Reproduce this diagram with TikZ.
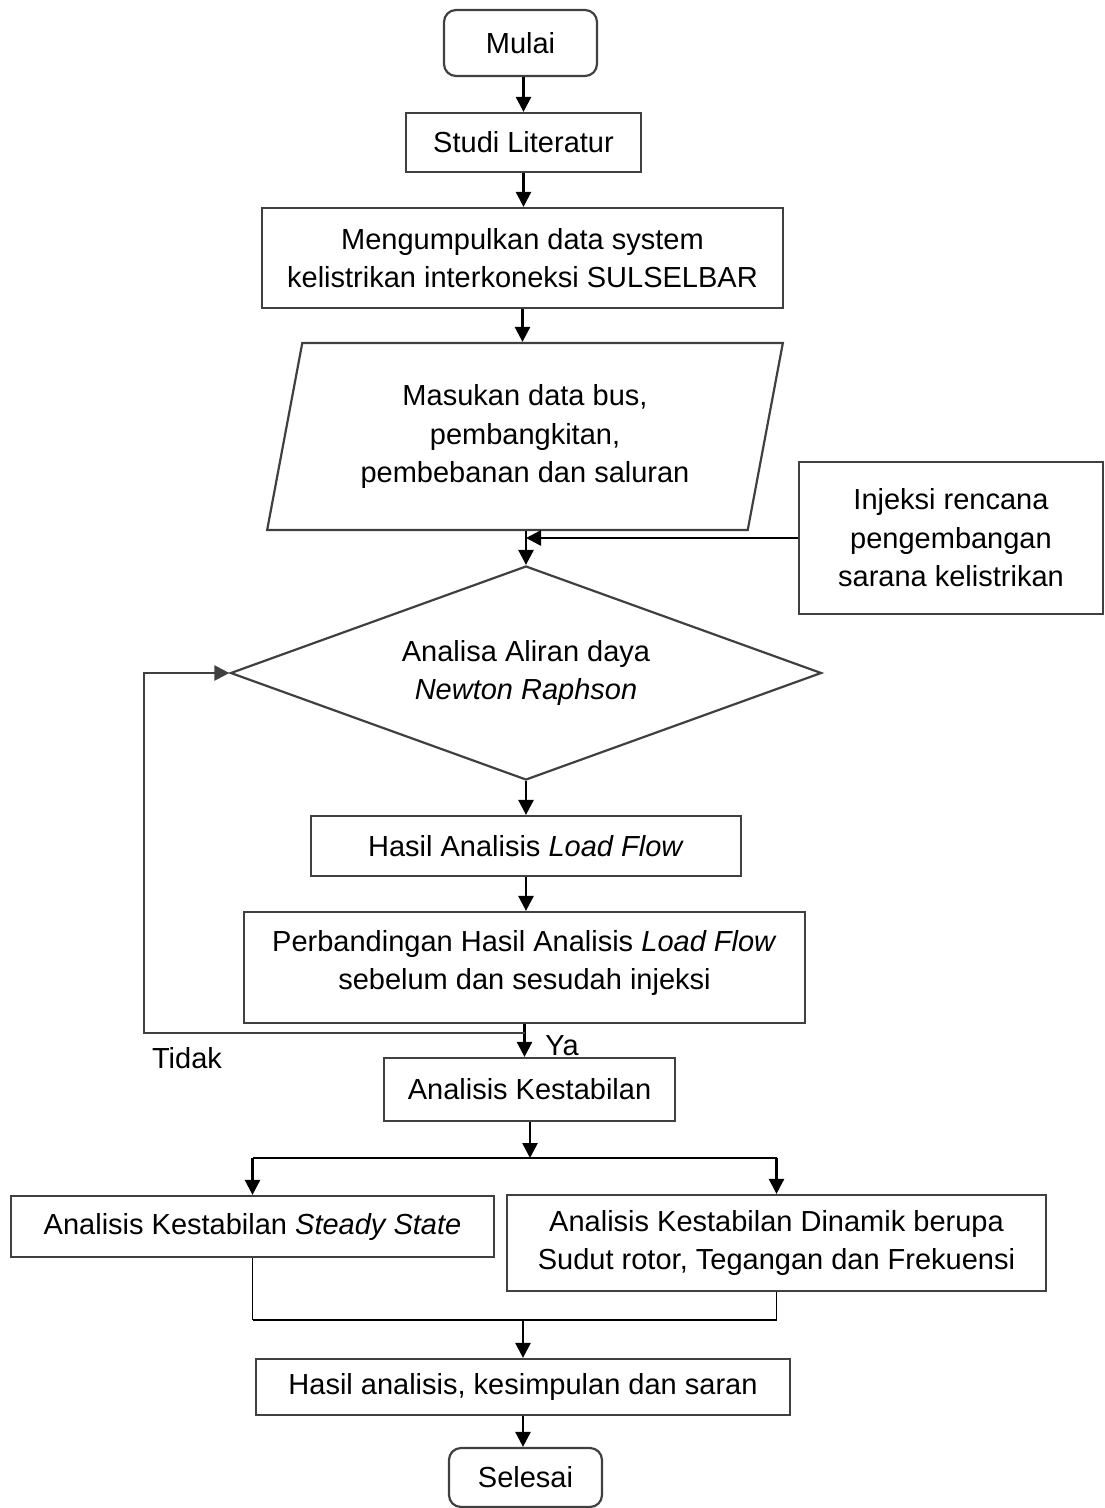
\documentclass[tikz,border=0pt]{standalone}
\usepackage{fontspec}
\setmainfont{Liberation Sans}
\usepackage{tikz}
\usetikzlibrary{positioning, arrows.meta, calc, shapes.geometric}
\tikzset{every node/.append style={execute at begin node={\hyphenpenalty=10000\exhyphenpenalty=10000\relax}}}
\usepackage{xcolor}

\begin{document}
\begin{tikzpicture}[x=1pt, y=-1pt,
    font=\fontsize{29}{38.5}\selectfont,
    kotak/.style={draw=black!75, line width=2.2pt, align=center, inner sep=0pt},
    terminal/.style={kotak, rounded corners=12pt},
    panah/.style={draw=black, line width=2.6pt, -{Triangle[width=15pt,length=15pt]}},
    balik/.style={draw=black!75, line width=2.2pt, -{Triangle[width=15pt,length=15pt]}},
    tipis/.style={draw=black, line width=1.3pt},
    tebal/.style={draw=black, line width=2.6pt}]
  \useasboundingbox (0,0) rectangle (1104,1508);

  \node[terminal, minimum width=153pt, minimum height=66pt] (mulai) at (520.5,43) {Mulai};
  \node[kotak, minimum width=235pt, minimum height=59pt] (studi) at (523.5,142.5) {Studi Literatur};
  \node[kotak, minimum width=521pt, minimum height=100pt] (kumpul) at (522.5,258)
    {Mengumpulkan data system\\kelistrikan interkoneksi SULSELBAR};
  \node[kotak, trapezium, trapezium left angle=76, trapezium right angle=104,
    trapezium stretches=true, minimum width=516pt, minimum height=187pt] (masukan) at (525,436.5)
    {Masukan data bus,\\pembangkitan,\\pembebanan dan saluran};
  \node[kotak, minimum width=304pt, minimum height=152pt] (injeksi) at (951,538)
    {Injeksi rencana\\pengembangan\\sarana kelistrikan};
  \node[kotak, diamond, aspect=2.76, minimum width=591pt, minimum height=214pt] (aliran) at (526,673)
    {Analisa Aliran daya\\\textit{Newton Raphson}};
  \node[kotak, minimum width=430pt, minimum height=60pt] (hasillf) at (526,846)
    {Hasil Analisis \textit{Load Flow}};
  \node[kotak, minimum width=561pt, minimum height=111pt] (banding) at (524.5,967.5)
    {Perbandingan Hasil Analisis \textit{Load Flow}\\sebelum dan sesudah injeksi\\[-23pt]~};
  \node[kotak, minimum width=291pt, minimum height=63pt] (stabil) at (529.5,1089.5)
    {Analisis Kestabilan};
  \node[kotak, minimum width=483pt, minimum height=61pt] (steady) at (252.5,1226.5)
    {Analisis Kestabilan \textit{Steady State}};
  \node[kotak, minimum width=539pt, minimum height=96pt] (dinamik) at (776.5,1243)
    {Analisis Kestabilan Dinamik berupa\\Sudut rotor, Tegangan dan Frekuensi};
  \node[kotak, minimum width=534pt, minimum height=56pt] (akhir) at (523,1387)
    {Hasil analisis, kesimpulan dan saran};
  \node[terminal, minimum width=153pt, minimum height=59pt] (selesai) at (525.5,1477.5) {Selesai};

  \node (ya) at (562,1046) {Ya};
  \node (tidak) at (187,1058) {Tidak};

  \coordinate (putar) at (144,1033);
  \coordinate (cabang) at (530,1158);
  \coordinate (gabung) at (523,1320);

  \draw[panah] (mulai.south -| studi.north) -- (studi.north);
  \draw[panah] (studi.south) -- (studi.south |- kumpul.north);
  \draw[panah] (kumpul.south) -- (kumpul.south |- masukan.north);
  \draw[panah] (aliran.north |- masukan.south) -- (aliran.north);
  \draw[panah] (injeksi.west) -- (injeksi.west -| aliran.north);
  \draw[panah] (aliran.south) -- (hasillf.north);
  \draw[panah] (hasillf.south) -- (hasillf.south |- banding.north);
  \draw[panah] (banding.south) -- (banding.south |- stabil.north);
  % jalur Tidak kembali ke analisa aliran daya
  \draw[balik] (banding.south |- putar) -- (putar) |- (aliran.west);
  \draw[panah] (stabil.south -| cabang) -- (cabang);
  \draw[tebal] (steady.north |- cabang) -- (dinamik.north |- cabang);
  \draw[panah] (steady.north |- cabang) -- (steady.north);
  \draw[panah] (dinamik.north |- cabang) -- (dinamik.north);
  \draw[tipis] (steady.south) -- (steady.south |- gabung);
  \draw[tipis] (dinamik.south) -- (dinamik.south |- gabung);
  \draw[tebal] (steady.south |- gabung) -- (dinamik.south |- gabung);
  \draw[panah] (gabung) -- (akhir.north);
  \draw[panah] (akhir.south) -- (akhir.south |- selesai.north);
\end{tikzpicture}
\end{document}
